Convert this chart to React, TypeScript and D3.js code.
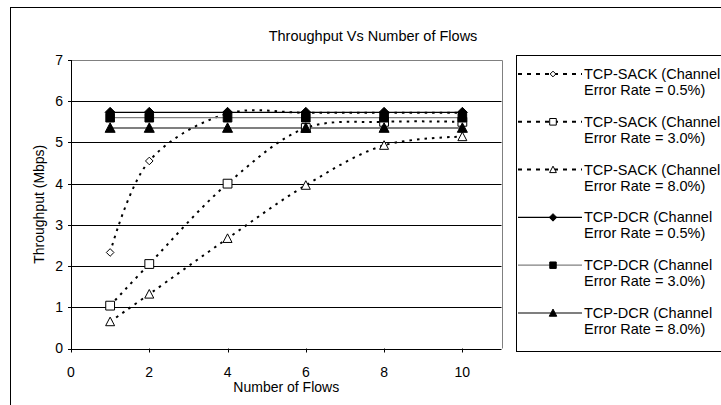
import React from "react";
import * as d3 from "d3";

// Number of concurrent flows on the x axis
const flows = [1, 2, 4, 6, 8, 10];

// Throughput (Mbps) per protocol and channel error rate
const sack05 = [2.33, 4.55, 5.7, 5.72, 5.72, 5.72];
const sack30 = [1.04, 2.05, 4.0, 5.35, 5.5, 5.5];
const sack80 = [0.65, 1.32, 2.67, 3.96, 4.93, 5.14];
const dcr05 = [5.73, 5.73, 5.73, 5.73, 5.73, 5.73];
const dcr30 = [5.6, 5.6, 5.6, 5.6, 5.6, 5.6];
const dcr80 = [5.35, 5.35, 5.35, 5.35, 5.35, 5.35];

const xTicks = [0, 2, 4, 6, 8, 10];
const yTicks = [0, 1, 2, 3, 4, 5, 6, 7];

const seriesNames = [
  "TCP-SACK (Channel",
  "TCP-SACK (Channel",
  "TCP-SACK (Channel",
  "TCP-DCR (Channel",
  "TCP-DCR (Channel",
  "TCP-DCR (Channel",
];
const seriesRates = [
  "Error Rate = 0.5%)",
  "Error Rate = 3.0%)",
  "Error Rate = 8.0%)",
  "Error Rate = 0.5%)",
  "Error Rate = 3.0%)",
  "Error Rate = 8.0%)",
];

type Shape = "diamond" | "square" | "triangle";

interface Series {
  values: number[];
  shape: Shape;
  filled: boolean;
  dashed: boolean;
  lineColor: string;
}

const series: Series[] = [
  { values: sack05, shape: "diamond", filled: false, dashed: true, lineColor: "#000" },
  { values: sack30, shape: "square", filled: false, dashed: true, lineColor: "#000" },
  { values: sack80, shape: "triangle", filled: false, dashed: true, lineColor: "#000" },
  { values: dcr05, shape: "diamond", filled: true, dashed: false, lineColor: "#000" },
  { values: dcr30, shape: "square", filled: true, dashed: false, lineColor: "#808080" },
  { values: dcr80, shape: "triangle", filled: true, dashed: false, lineColor: "#000" },
];

const FONT = "'Liberation Sans', Arial, Helvetica, sans-serif";

function markerPath(shape: Shape, filled: boolean, k = 1): string {
  const p = d3.path();
  if (shape === "diamond") {
    const r = (filled ? 5 : 3.8) * k;
    p.moveTo(0, -r);
    p.lineTo(r, 0);
    p.lineTo(0, r);
    p.lineTo(-r, 0);
    p.closePath();
  } else if (shape === "square") {
    const r = (filled ? 4.3 : 4.4) * k;
    p.rect(-r, -r, 2 * r, 2 * r);
  } else {
    const top = (filled ? 5.2 : 4.6) * k;
    const bot = (filled ? 4.3 : 4) * k;
    const hw = (filled ? 5 : 4.5) * k;
    p.moveTo(0, -top);
    p.lineTo(hw, bot);
    p.lineTo(-hw, bot);
    p.closePath();
  }
  return p.toString();
}

export default function App() {
  const W = 721;
  const H = 405;
  const plot = { left: 71, top: 60, right: 501.5, bottom: 348.5 };

  const x = d3.scaleLinear().domain([0, 11]).range([plot.left, plot.right]);
  const y = d3.scaleLinear().domain([0, 7]).range([plot.bottom, plot.top]);

  const smooth = d3
    .line<number>()
    .x((_, i) => x(flows[i]))
    .y((d) => y(d))
    .curve(d3.curveCatmullRom.alpha(0.5));
  const straight = d3
    .line<number>()
    .x((_, i) => x(flows[i]))
    .y((d) => y(d));

  const legend = { left: 516, top: 55, bottom: 351, lineX0: 518, lineX1: 582, markX: 553, textX: 584, row0: 79, step: 47.8 };

  return (
    <svg
      width={W}
      height={H}
      style={{ position: "absolute", left: 0, top: 0, background: "#fff" }}
      fontFamily={FONT}
    >
      <rect x={0} y={0} width={W} height={H} fill="#fff" />
      {/* chart area frame */}
      <rect x={10.5} y={7.5} width={W + 10} height={H + 10} fill="none" stroke="#000" strokeWidth={1} />

      {/* title */}
      <text x={373} y={40.5} textAnchor="middle" fontSize={14.5} fill="#000">
        Throughput Vs Number of Flows
      </text>

      {/* plot area */}
      <rect x={plot.left} y={plot.top} width={plot.right - plot.left} height={plot.bottom - plot.top} fill="#fff" />
      {yTicks
        .filter((t) => t > 0 && t < 7)
        .map((t) => (
          <line
            key={`g${t}`}
            x1={plot.left}
            x2={plot.right}
            y1={Math.round(y(t)) + 0.5}
            y2={Math.round(y(t)) + 0.5}
            stroke="#000"
            strokeWidth={1}
          />
        ))}
      {/* plot border top/right */}
      <path
        d={`M${plot.left},${Math.round(plot.top) + 0.5}H${Math.round(plot.right) + 0.5}V${plot.bottom}`}
        fill="none"
        stroke="#808080"
        strokeWidth={1}
      />

      {/* y axis */}
      <line x1={plot.left + 0.5} x2={plot.left + 0.5} y1={plot.top} y2={plot.bottom + 0.5} stroke="#000" />
      {yTicks.map((t) => (
        <g key={`yt${t}`}>
          <line x1={plot.left - 3} x2={plot.left + 0.5} y1={Math.round(y(t)) + 0.5} y2={Math.round(y(t)) + 0.5} stroke="#000" />
          <text x={63} y={y(t)} dy="0.35em" textAnchor="end" fontSize={14} fill="#000">
            {t}
          </text>
        </g>
      ))}
      <text
        transform={`translate(44,${(plot.top + plot.bottom) / 2}) rotate(-90)`}
        textAnchor="middle"
        fontSize={14}
        fill="#000"
      >
        Throughput (Mbps)
      </text>

      {/* x axis */}
      <line x1={plot.left} x2={plot.right} y1={Math.round(plot.bottom) + 0.5} y2={Math.round(plot.bottom) + 0.5} stroke="#000" />
      {xTicks.map((t) => (
        <g key={`xt${t}`}>
          <line
            x1={Math.round(x(t)) + 0.5}
            x2={Math.round(x(t)) + 0.5}
            y1={plot.bottom}
            y2={plot.bottom + 4}
            stroke="#000"
          />
          <text x={x(t)} y={377} textAnchor="middle" fontSize={14} fill="#000">
            {t}
          </text>
        </g>
      ))}
      <text x={(plot.left + plot.right) / 2} y={392} textAnchor="middle" fontSize={14} fill="#000">
        Number of Flows
      </text>

      {/* series lines */}
      {series.map((s, i) => (
        <path
          key={`l${i}`}
          d={(s.dashed ? smooth : straight)(s.values) ?? ""}
          fill="none"
          stroke={s.lineColor}
          strokeWidth={s.dashed ? 2 : 1.2}
          strokeDasharray={s.dashed ? "2.5,5" : undefined}
        />
      ))}
      {/* series markers */}
      {series.map((s, i) => (
        <g key={`m${i}`}>
          {s.values.map((v, j) => (
            <path
              key={j}
              transform={`translate(${x(flows[j])},${y(v)})`}
              d={markerPath(s.shape, s.filled)}
              fill={s.filled ? "#000" : "#fff"}
              stroke="#000"
              strokeWidth={1}
            />
          ))}
        </g>
      ))}

      {/* legend */}
      <rect
        x={legend.left + 0.5}
        y={legend.top + 0.5}
        width={W}
        height={legend.bottom - legend.top}
        fill="#fff"
        stroke="#000"
      />
      {series.map((s, i) => {
        const by = legend.row0 + i * legend.step;
        const my = by - 5;
        return (
          <g key={`lg${i}`}>
            <line
              x1={legend.lineX0}
              x2={legend.lineX1}
              y1={my}
              y2={my}
              stroke={s.lineColor}
              strokeWidth={s.dashed ? 2 : 1.2}
              strokeDasharray={s.dashed ? "4,5" : undefined}
            />
            <path
              transform={`translate(${legend.markX},${my})`}
              d={markerPath(s.shape, s.filled, 0.75)}
              fill={s.filled ? "#000" : "#fff"}
              stroke="#000"
              strokeWidth={1}
            />
            <text x={legend.textX} y={by} fontSize={14.5} fill="#000">
              {seriesNames[i]}
            </text>
            <text x={legend.textX} y={by + 16} fontSize={14.5} fill="#000">
              {seriesRates[i]}
            </text>
          </g>
        );
      })}
    </svg>
  );
}
